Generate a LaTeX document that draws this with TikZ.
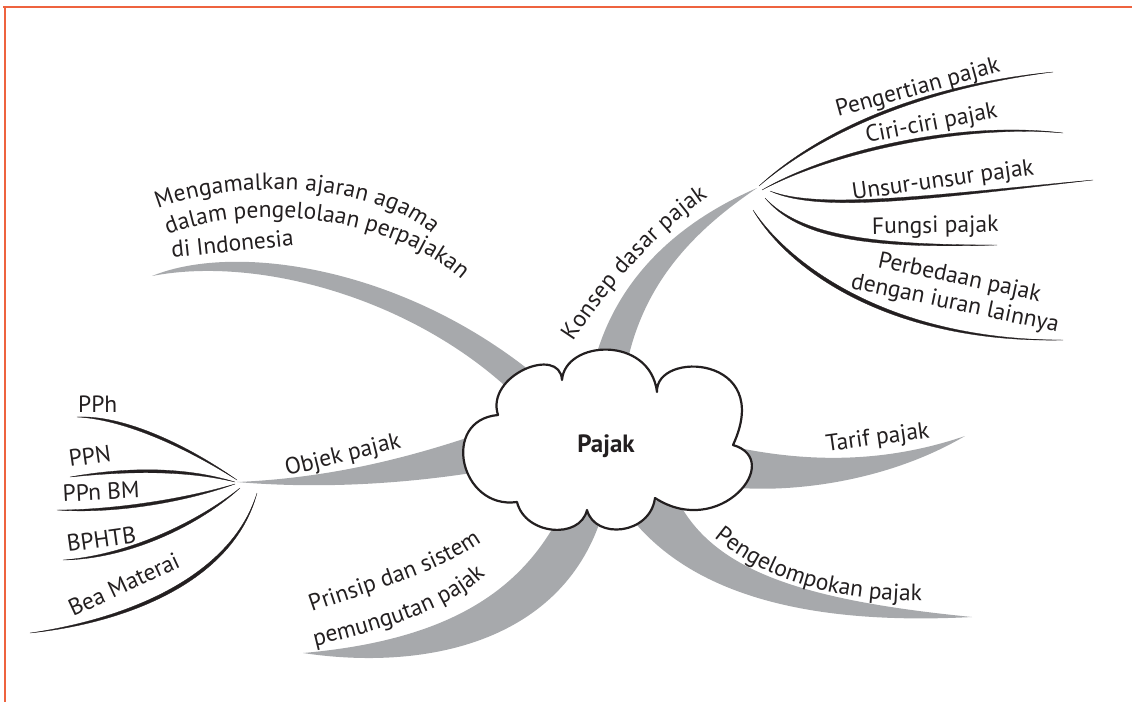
\documentclass[tikz,border=0pt]{standalone}
\usepackage{fontspec}
\setmainfont{PT Sans}
\usetikzlibrary{calc,decorations.text}

\definecolor{frame}{RGB}{238,99,63}
\definecolor{bandgray}{RGB}{167,169,172}
\definecolor{ink}{RGB}{35,31,32}

\newcommand\lblfont{\fontsize{23.5}{27}\selectfont}
% thin tapered twig: start, control 1, control 2, end, offset of the return curve
\newcommand\twig[5]{%
  \fill[twig] #1 .. controls #2 and #3 .. #4
    .. controls ($#3+#5$) and ($#2+#5$) .. #1 -- cycle;}

\tikzset{
  band/.style={fill=bandgray},
  twig/.style={fill=ink, draw=ink, line width=0.3pt},
  lab/.style={font=\lblfont, text=ink, inner sep=0pt, anchor=base west},
  curved/.style={decorate, decoration={text along path,
      text align={fit to path}, text color=ink, text={|\lblfont|#1}}},
}

\begin{document}
\begin{tikzpicture}[x=1pt, y=-1pt]
\useasboundingbox (0,0) rectangle (1132,702);

% page frame
\draw[frame, line width=2pt] (3,7) -- (1132,7);
\draw[frame, line width=2pt] (5,7) -- (5,702);

% hubs and branch tips
\coordinate (hubR) at (757,188);
\coordinate (hubL) at (237,482);
\coordinate (tipAgama) at (152,276);
\coordinate (tipTarif) at (965,436);
\coordinate (tipKelompok) at (972,617);
\coordinate (tipPrinsip) at (303,653);

% main grey branches
\fill[band] (tipAgama) .. controls (240,240) and (420,270) .. (555,392)
  -- (520,400) .. controls (420,300) and (260,255) .. (tipAgama) -- cycle;
\fill[band] (588,395) .. controls (600,300) and (660,230) .. (hubR)
  .. controls (680,240) and (632,300) .. (622,395) -- cycle;
\fill[band] (hubL) .. controls (330,478) and (410,458) .. (490,430)
  -- (490,470) .. controls (420,482) and (330,490) .. (hubL) -- cycle;
\fill[band] (725,445) .. controls (800,462) and (880,465) .. (tipTarif)
  .. controls (890,480) and (800,492) .. (740,488) -- cycle;
\fill[band] (675,495) .. controls (710,570) and (800,600) .. (tipKelompok)
  .. controls (820,625) and (690,600) .. (625,510) -- cycle;
\fill[band] (565,505) .. controls (525,590) and (450,640) .. (tipPrinsip)
  .. controls (430,672) and (570,640) .. (605,505) -- cycle;

% twigs on the right hub
\coordinate (ePengertian) at (1053,72);
\coordinate (eCiri) at (1063,133);
\coordinate (eUnsur) at (1093,180);
\coordinate (eFungsi) at (997,245);
\coordinate (ePerbedaan) at (1063,340);
\twig{(759,186)}{(820,130)}{(920,85)}{(ePengertian)}{(0,4)}
\twig{(762,190)}{(830,150)}{(960,120)}{(eCiri)}{(0,4)}
\twig{(770,191)}{(820,210)}{(930,195)}{(eUnsur)}{(0,4)}
\twig{(765,198)}{(800,235)}{(870,245)}{(eFungsi)}{(-1,4)}
\twig{(753,210)}{(790,265)}{(890,340)}{(ePerbedaan)}{(-3,3.5)}

% twigs on the left hub
\coordinate (ePPh) at (77,417);
\coordinate (ePPN) at (70,477);
\coordinate (ePPnBM) at (57,510);
\coordinate (eBPHTB) at (63,560);
\coordinate (eBea) at (30,633);
\twig{(237,480)}{(180,440)}{(120,415)}{(ePPh)}{(0,4)}
\twig{(235,482)}{(180,465)}{(120,468)}{(ePPN)}{(0,4)}
\twig{(235,484)}{(180,500)}{(110,510)}{(ePPnBM)}{(0,4)}
\twig{(240,488)}{(200,520)}{(130,555)}{(eBPHTB)}{(1,4)}
\twig{(257,493)}{(230,580)}{(120,620)}{(eBea)}{(3,3.5)}

% central cloud
\filldraw[fill=white, draw=ink, line width=2.2pt, line join=round]
  (498,415) .. controls (485,375) and (560,345) .. (562,380)
  .. controls (565,340) and (650,335) .. (657,392)
  .. controls (655,350) and (775,355) .. (733,445)
  .. controls (785,460) and (720,540) .. (655,498)
  .. controls (650,535) and (595,540) .. (587,510)
  .. controls (580,540) and (525,535) .. (517,502)
  .. controls (460,510) and (440,420) .. (498,415) -- cycle;
\node[font=\fontsize{25}{29}\selectfont\bfseries, text=ink] (pajak) at (606,446) {Pajak};

% branch labels
\path[curved={Mengamalkan ajaran agama}]
  (158,209) .. controls (230,180) and (370,180) .. (432,234);
\path[curved={dalam pengelolaan perpajakan}]
  (168,235) .. controls (240,205) and (380,210) .. (460,278);
\node[lab, rotate=6] (indonesia) at (172,258) {di Indonesia};
\path[curved={Konsep dasar pajak}]
  (573,342) .. controls (603,296) and (650,237) .. (708,197);
\node[lab, rotate=14] (objek) at (287,476) {Objek pajak};
\node[lab, rotate=8] (tarif) at (827,452) {Tarif pajak};
\path[curved={Pengelompokan pajak}]
  (714,537) .. controls (760,575) and (820,600) .. (920,601);
\path[curved={Prinsip dan sistem}]
  (312,612) .. controls (360,595) and (430,575) .. (474,547);
\path[curved={pemungutan pajak}]
  (315,646) .. controls (380,630) and (445,612) .. (482,578);

% sub-branch labels, right
\node[lab, rotate=15.5] (pengertian) at (838,117) {Pengertian pajak};
\node[lab, rotate=11] (ciri) at (867,143) {Ciri-ciri pajak};
\node[lab, rotate=8] (unsur) at (853,200) {Unsur-unsur pajak};
\node[lab, rotate=1] (fungsi) at (872,234) {Fungsi pajak};
\node[lab, rotate=-12] (perbedaan) at (877,267) {Perbedaan pajak};
\node[lab, rotate=-12] (iuran) at (850,288) {dengan iuran lainnya};

% sub-branch labels, left
\node[lab] (pph) at (78,412) {PPh};
\node[lab, rotate=8] (ppn) at (70,467) {PPN};
\node[lab, rotate=3] (ppnbm) at (63,502) {PPn BM};
\node[lab, rotate=8] (bphtb) at (68,552) {BPHTB};
\node[lab, rotate=25] (bea) at (73,617) {Bea Materai};
\end{tikzpicture}
\end{document}
